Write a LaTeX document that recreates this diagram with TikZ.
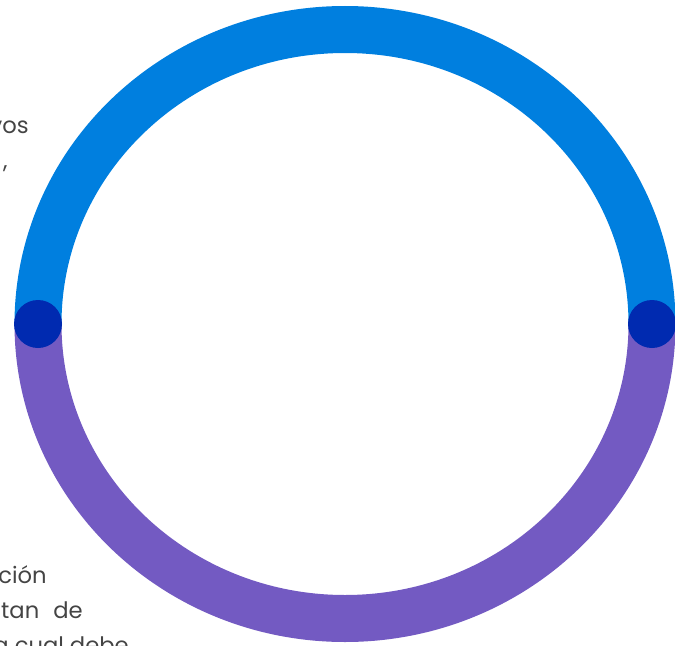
\documentclass[tikz,border=0pt]{standalone}
\usepackage{fontspec}
\setmainfont{Poppins}
\definecolor{ringblue}{RGB}{0,127,223}
\definecolor{ringpurple}{RGB}{115,90,194}
\definecolor{dotblue}{RGB}{0,42,176}
\definecolor{textgray}{RGB}{68,68,68}
\tikzset{
  bodytext/.style={inner sep=0pt, anchor=base east, text=textgray, font=\fontsize{17}{20}\selectfont},
  ringarc/.style={line width=35.25pt},
  enddot/.style={fill=dotblue, draw=none}
}
\begin{document}
\begin{tikzpicture}[x=0.75pt,y=0.75pt,yscale=-1,xscale=1]
\useasboundingbox (0,0) rectangle (675,646);
\clip (0,0) rectangle (675,646);

%Arc: upper half of ring
\draw [ringarc, ringblue] (38,324) arc [start angle=180, end angle=360, x radius=307, y radius=294.5];
%Arc: lower half of ring
\draw [ringarc, ringpurple] (38,324) arc [start angle=180, end angle=0, x radius=307, y radius=294.5];
%Shape: Circle left end
\fill [enddot] (38,324) circle [radius=24];
%Shape: Circle right end
\fill [enddot] (652,324) circle [radius=24];

% Text Node
\node (vos) [bodytext] at (29,133) {vos};
% Text Node
\node (comma) [bodytext] at (8,168) {,};
% Text Node
\node (cion) [bodytext] at (47,583) {ción};
% Text Node
\node (tande) [bodytext] at (83,618) {tan\hspace{6pt} de};
% Text Node
\node (cualdebe) [bodytext] at (129,653) {a cual debe};

\end{tikzpicture}
\end{document}
